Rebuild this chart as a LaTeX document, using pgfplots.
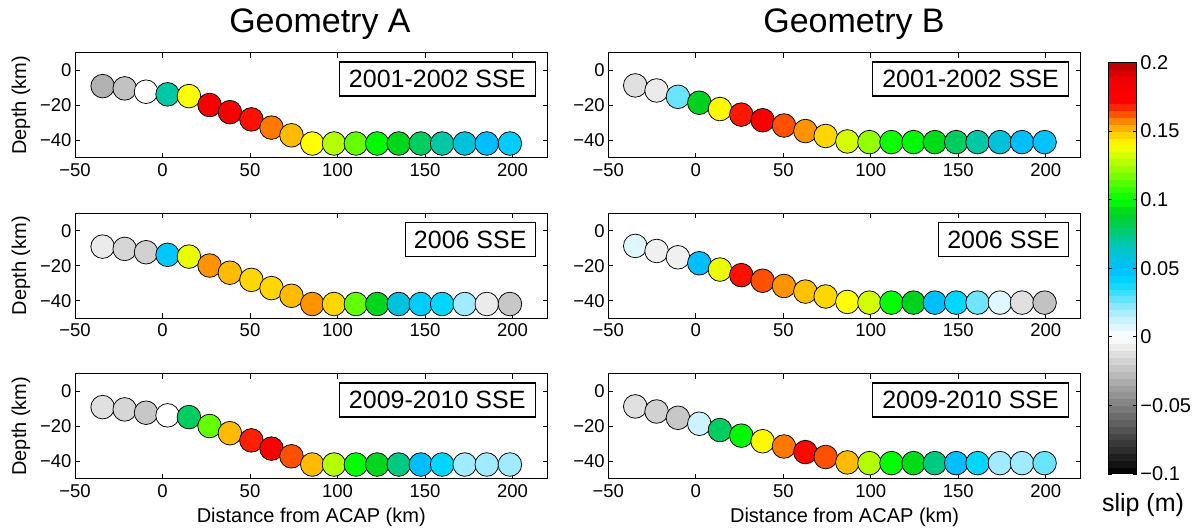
\documentclass[border=0pt]{standalone}
\usepackage{pgfplots}
\pgfplotsset{compat=1.18}
\usepackage{pgfplotstable}
\usepackage{fontspec}
\setmainfont{Liberation Sans}
\usetikzlibrary{calc}

% along-dip patches: x (km from ACAP), depth (km), slip (m) for each SSE
\pgfplotstableread{
x      z      s01     s06     s09
-34.2  -9.1   -0.030  -0.008  -0.012
-21.6  -10.4  -0.024  -0.016  -0.016
-9.4   -12.3  0.000   -0.018  -0.022
2.9    -13.8  0.070   0.046   0.000
15.1   -14.8  0.140   0.136   0.080
26.9   -19.9  0.178   0.156   0.115
38.5   -24.0  0.180   0.151   0.151
50.8   -28.1  0.170   0.147   0.168
62.3   -32.8  0.159   0.147   0.175
73.7   -37.2  0.151   0.151   0.163
85.6   -41.9  0.140   0.156   0.151
98.0   -41.9  0.127   0.147   0.127
110.5  -41.9  0.115   0.115   0.100
122.7  -41.9  0.099   0.091   0.091
135.0  -41.9  0.091   0.058   0.075
147.6  -41.9  0.080   0.044   0.050
159.8  -41.9  0.070   0.040   0.040
172.7  -41.9  0.059   0.020   0.020
185.3  -41.9  0.050   -0.008  0.020
198.5  -41.9  0.044   -0.022  0.020
}\geomA

\pgfplotstableread{
x      z      s01     s06     s09
-34.6  -8.7   -0.012  0.008   -0.012
-22.4  -11.6  -0.008  -0.006  -0.018
-10.2  -15.2  0.027   -0.006  -0.022
2.0    -18.6  0.090   0.050   0.012
13.8   -22.2  0.141   0.136   0.080
26.0   -25.4  0.169   0.170   0.099
38.2   -28.6  0.178   0.163   0.141
50.4   -31.6  0.163   0.156   0.159
62.6   -34.8  0.156   0.150   0.171
74.2   -37.6  0.147   0.147   0.163
86.6   -40.7  0.132   0.140   0.151
99.2   -41.1  0.122   0.132   0.127
111.8  -41.1  0.102   0.100   0.100
124.4  -41.1  0.099   0.090   0.092
136.6  -41.1  0.092   0.050   0.075
148.8  -41.1  0.080   0.040   0.050
161.0  -41.1  0.070   0.026   0.040
173.8  -41.1  0.059   0.008   0.020
186.4  -41.1  0.051   -0.012  0.020
199.3  -41.1  0.048   -0.024  0.027
}\geomB

\tikzset{
  eventbox/.style={
    draw=black, line width=1.5pt, fill=white, inner sep=0pt,
    minimum height=34pt, anchor=north east,
    font=\fontsize{25}{28}\selectfont,
  },
}

\pgfplotsset{
  colormap={slip}{
    rgb255(0pt)=(0,0,0);
    rgb255(100pt)=(255,255,255);
    rgb255(110pt)=(215,245,255);
    rgb255(120pt)=(160,235,255);
    rgb255(130pt)=(80,225,255);
    rgb255(140pt)=(0,215,255);
    rgb255(150pt)=(0,190,255);
    rgb255(160pt)=(0,195,215);
    rgb255(170pt)=(0,200,165);
    rgb255(180pt)=(0,205,95);
    rgb255(190pt)=(0,210,30);
    rgb255(200pt)=(0,255,0);
    rgb255(215pt)=(100,255,0);
    rgb255(230pt)=(200,255,0);
    rgb255(240pt)=(255,255,0);
    rgb255(247pt)=(255,215,0);
    rgb255(252pt)=(255,180,0);
    rgb255(257pt)=(255,140,0);
    rgb255(262pt)=(255,90,0);
    rgb255(267pt)=(255,40,0);
    rgb255(272pt)=(255,0,0);
    rgb255(288pt)=(240,0,0);
    rgb255(300pt)=(175,0,0)
  },
  panel/.style={
    scale only axis, width=472.5pt, height=105pt, anchor=north west,
    xmin=-50, xmax=220, ymin=-50, ymax=10, clip=false,
    xtick={-50,0,50,100,150,200}, xticklabels={−50,0,50,100,150,200},
    ytick={-40,-20,0}, yticklabels={−40,−20,0},
    tick align=inside, major tick length=5pt,
    axis line style={line width=1pt},
    every tick/.style={black, line width=0.9pt},
    tick label style={font=\fontsize{18.5}{20}\selectfont},
    xticklabel style={yshift=-2pt},
    label style={font=\fontsize{20}{22}\selectfont},
    ylabel style={at={(axis description cs:-0.1143,0.5)}, anchor=center},
    xlabel style={at={(axis description cs:0.5,-0.419)}, anchor=base},
    title style={font=\fontsize{34}{40}\selectfont, anchor=base},
    colormap name=slip, point meta min=-0.1, point meta max=0.2,
  },
  slipmarks/.style={
    scatter, only marks, mark=*, mark size=11.8pt, scatter src=explicit,
    scatter/use mapped color={draw=black, fill=mapped color},
    mark options={line width=0.75pt},
  },
}

\begin{document}
\begin{tikzpicture}
\useasboundingbox (0,0) rectangle (1198pt,527pt);

% ---------- Geometry A ----------
\begin{axis}[panel, at={(75pt,474.3pt)}, ylabel={Depth (km)},
  title={Geometry A}, title style={at={(axis description cs:0.5185,1.1305)}}]
  \addplot[slipmarks] table[x=x, y=z, meta=s01] {\geomA};
  \node[eventbox, minimum width=196pt] at ([xshift=-11.5pt,yshift=-8.5pt]rel axis cs:1,1) {2001-2002 SSE};
\end{axis}

\begin{axis}[panel, at={(75pt,313.8pt)}, ylabel={Depth (km)}]
  \addplot[slipmarks] table[x=x, y=z, meta=s06] {\geomA};
  \node[eventbox, minimum width=130pt] at ([xshift=-11.5pt,yshift=-8.5pt]rel axis cs:1,1) {2006 SSE};
\end{axis}

\begin{axis}[panel, at={(75pt,153.3pt)}, ylabel={Depth (km)},
  xlabel={Distance from ACAP (km)}]
  \addplot[slipmarks] table[x=x, y=z, meta=s09] {\geomA};
  \node[eventbox, minimum width=196pt] at ([xshift=-11.5pt,yshift=-8.5pt]rel axis cs:1,1) {2009-2010 SSE};
\end{axis}

% ---------- Geometry B ----------
\begin{axis}[panel, at={(608.3pt,474.3pt)},
  title={Geometry B}, title style={at={(axis description cs:0.52,1.1305)}},
  colorbar sampled,
  colorbar style={
    at={($(parent axis.north east)+(19pt,-9.6pt)$)}, anchor=north west,
    scale only axis, width=28.6pt, height=411.7pt,
    samples=61,
    ytick={-0.1,-0.05,0,0.05,0.1,0.15,0.2},
    yticklabels={−0.1,−0.05,0,0.05,0.1,0.15,0.2},
    yticklabel pos=right,
    tick align=inside, major tick length=4pt,
    axis line style={line width=1pt},
    every tick/.style={black, line width=0.8pt},
    tick label style={font=\fontsize{20}{22}\selectfont},
  }]
  \addplot[slipmarks] table[x=x, y=z, meta=s01] {\geomB};
  \node[eventbox, minimum width=196pt] at ([xshift=-11.5pt,yshift=-8.5pt]rel axis cs:1,1) {2001-2002 SSE};
\end{axis}

\begin{axis}[panel, at={(608.3pt,313.8pt)}]
  \addplot[slipmarks] table[x=x, y=z, meta=s06] {\geomB};
  \node[eventbox, minimum width=130pt] at ([xshift=-11.5pt,yshift=-8.5pt]rel axis cs:1,1) {2006 SSE};
\end{axis}

\begin{axis}[panel, at={(608.3pt,153.3pt)}, xlabel={Distance from ACAP (km)}]
  \addplot[slipmarks] table[x=x, y=z, meta=s09] {\geomB};
  \node[eventbox, minimum width=196pt] at ([xshift=-11.5pt,yshift=-8.5pt]rel axis cs:1,1) {2009-2010 SSE};
  \node[anchor=base, font=\fontsize{25}{28}\selectfont] at (axis description cs:1.1316,-0.3143) {slip (m)};
\end{axis}
\end{tikzpicture}
\end{document}
